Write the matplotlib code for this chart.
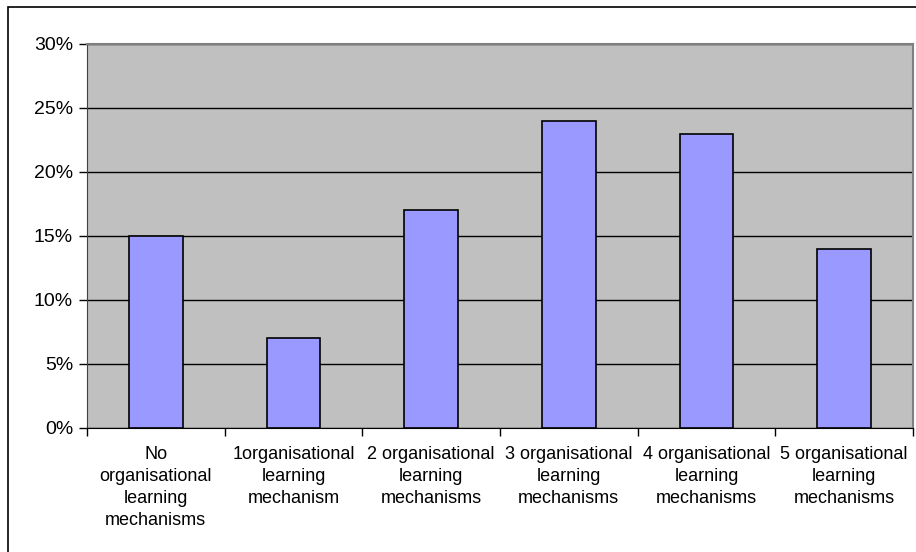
import matplotlib.pyplot as plt
from matplotlib.patches import Rectangle
from matplotlib.ticker import PercentFormatter

categories = [
    "No\norganisational\nlearning\nmechanisms",
    "1organisational\nlearning\nmechanism",
    "2 organisational\nlearning\nmechanisms",
    "3 organisational\nlearning\nmechanisms",
    "4 organisational\nlearning\nmechanisms",
    "5 organisational\nlearning\nmechanisms",
]
values = [15, 7, 17, 24, 23, 14]
yticks = [0, 5, 10, 15, 20, 25, 30]

plt.rcParams["font.family"] = ["Liberation Sans", "DejaVu Sans"]

fig = plt.figure(figsize=(9.16, 5.52), dpi=100)
# outer chart border
fig.patches.append(Rectangle((8 / 916, -0.1), 1.0, 1.1 - 7 / 552, transform=fig.transFigure,
                             fill=False, edgecolor="black", linewidth=1.2))

ax = fig.add_axes([87 / 916, 1 - 428 / 552, (913 - 87) / 916, (428 - 44) / 552])
ax.set_facecolor("#C0C0C0")

x = list(range(len(values)))
ax.bar(x, values, width=0.39, color="#9999FF", edgecolor="black", linewidth=1.2, zorder=3)

ax.set_xlim(-0.5, len(values) - 0.5)
ax.set_ylim(0, 30)
ax.set_yticks(yticks)
ax.yaxis.set_major_formatter(PercentFormatter(decimals=0))
ax.grid(axis="y", color="black", linewidth=1.0, zorder=1)
ax.set_axisbelow(True)

ax.set_xticks([i - 0.5 for i in range(len(values) + 1)])
ax.set_xticklabels([])
ax.set_xticks(x, minor=True)
ax.set_xticklabels(categories, minor=True, fontsize=13, linespacing=1.38)
ax.tick_params(axis="x", which="minor", length=0, pad=13)
ax.tick_params(axis="x", which="major", length=6, width=1, direction="out")
ax.tick_params(axis="y", length=6, width=1, labelsize=14, pad=4)

for side in ["top", "right"]:
    ax.spines[side].set_color("#808080")
    ax.spines[side].set_linewidth(1.5)
ax.spines["left"].set_color("#404040")
ax.spines["bottom"].set_color("black")

fig.savefig("out.png", dpi=100)
